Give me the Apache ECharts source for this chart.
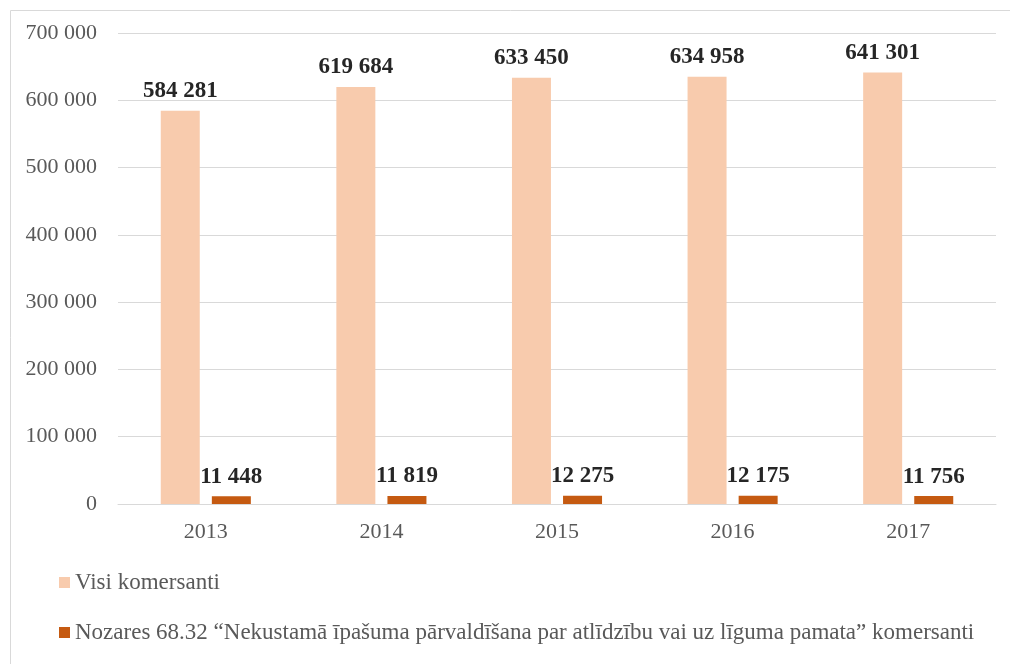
<!DOCTYPE html>
<html>
<head>
<meta charset="utf-8">
<script src="https://cdn.jsdelivr.net/npm/echarts@6/dist/echarts.min.js"></script>
<style>
  html, body { margin: 0; padding: 0; background: #fff; }
  #chart { width: 1010px; height: 664px; }
</style>
</head>
<body>
<div id="chart"></div>
<script>
const years = ['2013', '2014', '2015', '2016', '2017'];
const allCompanies = [584281, 619684, 633450, 634958, 641301];
const realEstate = [11448, 11819, 12275, 12175, 11756];
const seriesNames = [
  'Visi komersanti',
  'Nozares 68.32 “Nekustamā īpašuma pārvaldīšana par atlīdzību vai uz līguma pamata” komersanti'
];

const font = "'Liberation Serif', 'Times New Roman', serif";

function spaced(v) {
  return String(v).replace(/\B(?=(\d{3})+(?!\d))/g, ' ');
}

const chart = echarts.init(document.getElementById('chart'));

const valueLabel = {
  show: true,
  position: 'top',
  distance: 8,
  fontFamily: font,
  fontSize: 23,
  fontWeight: 'bold',
  color: '#262626',
  formatter: p => spaced(p.value)
};

chart.setOption({
  animation: false,
  textStyle: { fontFamily: font },
  graphic: [{
    type: 'rect',
    shape: { x: 10.5, y: 10.5, width: 1010, height: 700 },
    style: { fill: 'none', stroke: '#d9d9d9', lineWidth: 1 },
    silent: true
  }],
  grid: { left: 118, right: 14, top: 33, bottom: 160 },
  legend: {
    orient: 'vertical',
    left: 54,
    top: 566,
    itemWidth: 11,
    itemHeight: 11,
    itemGap: 27,
    icon: 'rect',
    textStyle: { fontFamily: font, fontSize: 23, color: '#595959' },
    data: seriesNames
  },
  xAxis: {
    type: 'category',
    data: years,
    axisLine: { lineStyle: { color: '#d9d9d9' } },
    axisTick: { show: false },
    axisLabel: { fontFamily: font, fontSize: 22, color: '#595959', margin: 17 }
  },
  yAxis: {
    type: 'value',
    min: 0,
    max: 700000,
    interval: 100000,
    axisLine: { show: false },
    axisTick: { show: false },
    splitLine: { lineStyle: { color: '#d9d9d9' } },
    axisLabel: {
      fontFamily: font, fontSize: 22, color: '#595959', margin: 21,
      formatter: v => spaced(v)
    }
  },
  series: [
    {
      name: seriesNames[0],
      type: 'bar',
      data: allCompanies,
      barWidth: 39,
      barGap: '31%',
      itemStyle: { color: '#F8CBAD' },
      label: valueLabel
    },
    {
      name: seriesNames[1],
      type: 'bar',
      data: realEstate,
      barWidth: 39,
      barGap: '31%',
      itemStyle: { color: '#C55A11' },
      label: valueLabel
    }
  ]
});
</script>
</body>
</html>
